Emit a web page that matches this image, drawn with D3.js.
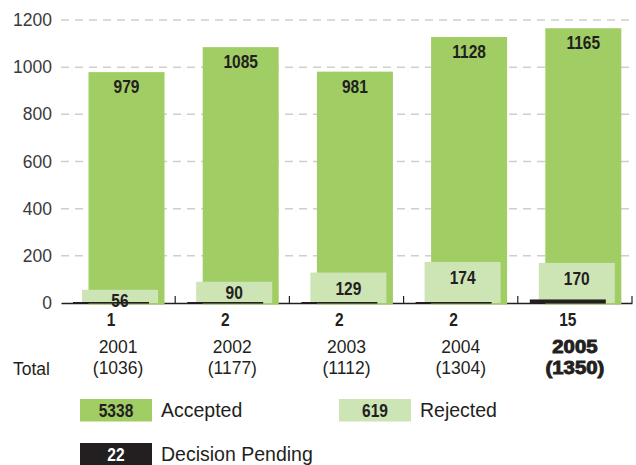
<!DOCTYPE html>
<html>
<head>
<meta charset="utf-8">
<script src="https://cdn.jsdelivr.net/npm/d3@7"></script>
<style>
  body { margin: 0; background: #fff; }
  svg { display: block; }
  .num { font-family: "Liberation Sans", Arial, Helvetica, sans-serif; font-weight: bold; }
  .txt { font-family: "Liberation Sans", Arial, Helvetica, sans-serif; }
</style>
</head>
<body>
<div id="chart"></div>
<script>
var years = ["2001", "2002", "2003", "2004", "2005"];
var accepted = [979, 1085, 981, 1128, 1165];
var rejected = [56, 90, 129, 174, 170];
var pending = [1, 2, 2, 2, 15];
var totals = [1036, 1177, 1112, 1304, 1350];
var yTicks = [0, 200, 400, 600, 800, 1000, 1200];
var legendItems = [
    { name: "Accepted", total: 5338, color: "#a0cd64", text: "#231f20" },
    { name: "Rejected", total: 619, color: "#cde4b4", text: "#231f20" },
    { name: "Decision Pending", total: 22, color: "#231f20", text: "#fff" }
];

var width = 636, height = 465;
var squeeze = 0.84; // condensed look for the bold numbers

var svg = d3.select("#chart").append("svg")
    .attr("width", width)
    .attr("height", height);

var x = d3.scaleBand()
    .domain(years)
    .range([61, 632])
    .padding(0);

var y = d3.scaleLinear()
    .domain([0, 1200])
    .range([303, 20]);

var step = x.bandwidth();
var barW = 76;
var last = years.length - 1;

function numLabel(g, data, cx, cy, fill) {
    g.selectAll("text")
        .data(data)
        .join("text")
        .attr("class", "num")
        .attr("transform", function(d, i){
            return "translate(" + cx(d, i) + "," + cy(d, i) + ") scale(" + squeeze + ",1)";
        })
        .attr("text-anchor", "middle")
        .attr("font-size", 18.5)
        .attr("fill", fill)
        .text(function(d){ return d; });
}

// gridlines
svg.append("g")
    .selectAll("line")
    .data(yTicks.filter(function(d){ return d > 0; }))
    .join("line")
    .attr("x1", 61)
    .attr("x2", 632)
    .attr("y1", function(d){ return y(d); })
    .attr("y2", function(d){ return y(d); })
    .attr("stroke", "#cfcfcf")
    .attr("stroke-width", 1.5)
    .attr("stroke-dasharray", "8,6");

// y axis labels
var yAxis = d3.axisLeft(y).tickValues(yTicks).tickFormat(d3.format("d")).tickSize(0).tickPadding(9);
var yG = svg.append("g")
    .attr("transform", "translate(61,0)")
    .call(yAxis);
yG.select(".domain").remove();
yG.selectAll("text")
    .attr("class", "txt")
    .attr("font-size", 17.5)
    .attr("fill", "#3a3a3a");

// x axis line with ticks at band boundaries
var xAxis = d3.axisBottom(x).tickSize(0).tickFormat("");
var xG = svg.append("g")
    .attr("transform", "translate(0," + y(0) + ")")
    .call(xAxis);
xG.select(".domain")
    .attr("stroke", "#231f20")
    .attr("stroke-width", 1.3);
xG.selectAll(".tick").remove();
svg.append("g")
    .selectAll("line")
    .data(years.slice(1).concat(["end"]))
    .join("line")
    .attr("x1", function(d){ return d === "end" ? x.range()[1] : x(d); })
    .attr("x2", function(d){ return d === "end" ? x.range()[1] : x(d); })
    .attr("y1", y(0))
    .attr("y2", y(0) - 7)
    .attr("stroke", "#231f20")
    .attr("stroke-width", 1.2);

// accepted bars
svg.append("g")
    .selectAll("rect")
    .data(accepted)
    .join("rect")
    .attr("x", function(d, i){ return x(years[i]) + 27.5; })
    .attr("y", function(d){ return y(d); })
    .attr("width", barW)
    .attr("height", function(d){ return y(0) - y(d) + 1.5; })
    .attr("fill", legendItems[0].color);

// rejected bars
svg.append("g")
    .selectAll("rect")
    .data(rejected)
    .join("rect")
    .attr("x", function(d, i){ return x(years[i]) + 21; })
    .attr("y", function(d){ return y(d); })
    .attr("width", barW)
    .attr("height", function(d){ return y(0) - y(d); })
    .attr("fill", legendItems[1].color);

// pending bars
svg.append("g")
    .selectAll("rect")
    .data(pending)
    .join("rect")
    .attr("x", function(d, i){ return x(years[i]) + 12; })
    .attr("y", function(d){ return Math.min(y(d), y(0) - 1); })
    .attr("width", barW)
    .attr("height", function(d){ return Math.max(y(0) - y(d), 1) + 0.6; })
    .attr("fill", legendItems[2].color);

// accepted labels
numLabel(svg.append("g"), accepted,
    function(d, i){ return x(years[i]) + 27.5 + barW / 2; },
    function(d){ return y(d) + 21; }, "#231f20");

// rejected labels
numLabel(svg.append("g"), rejected,
    function(d, i){ return x(years[i]) + 21 + barW / 2; },
    function(d){ return y(d) + (d < 100 ? 17 : 22.5); }, "#231f20");

// pending labels
numLabel(svg.append("g"), pending,
    function(d, i){ return x(years[i]) + 12 + barW / 2; },
    function(){ return 325.5; }, "#231f20");

// year + total labels, the latest year in a heavy extended style
function yearText(sel, baseY) {
    sel.attr("class", "txt")
        .attr("transform", function(d, i){
            var cx = x(years[i]) + step / 2;
            return "translate(" + cx + "," + baseY + ")" + (i === last ? " scale(1.16,1)" : "");
        })
        .attr("text-anchor", "middle")
        .attr("font-size", 17.5)
        .attr("font-weight", function(d, i){ return i === last ? "bold" : "normal"; })
        .attr("stroke", function(d, i){ return i === last ? "#231f20" : "none"; })
        .attr("stroke-width", 0.9)
        .attr("fill", "#231f20");
}
var yl = svg.append("g");
yl.selectAll("text.year")
    .data(years)
    .join("text")
    .call(yearText, 353)
    .text(function(d){ return d; });
yl.selectAll("text.tot")
    .data(totals)
    .join("text")
    .call(yearText, 374)
    .text(function(d){ return "(" + d + ")"; });

svg.append("text")
    .attr("class", "txt")
    .attr("x", 13)
    .attr("y", 375)
    .attr("font-size", 17.5)
    .attr("fill", "#231f20")
    .text("Total");

// legend
var legPos = [[80, 399], [339, 399], [80, 443]];
var leg = svg.append("g")
    .selectAll("g")
    .data(legendItems)
    .join("g")
    .attr("transform", function(d, i){ return "translate(" + legPos[i][0] + "," + legPos[i][1] + ")"; });

leg.append("rect")
    .attr("width", 72)
    .attr("height", 22.5)
    .attr("fill", function(d){ return d.color; });

leg.append("text")
    .attr("class", "num")
    .attr("transform", "translate(36,17.5) scale(" + squeeze + ",1)")
    .attr("text-anchor", "middle")
    .attr("font-size", 18.5)
    .attr("fill", function(d){ return d.text; })
    .text(function(d){ return d.total; });

leg.append("text")
    .attr("class", "txt")
    .attr("x", 81)
    .attr("y", 17.5)
    .attr("font-size", 19.5)
    .attr("fill", "#231f20")
    .text(function(d){ return d.name; });
</script>
</body>
</html>
